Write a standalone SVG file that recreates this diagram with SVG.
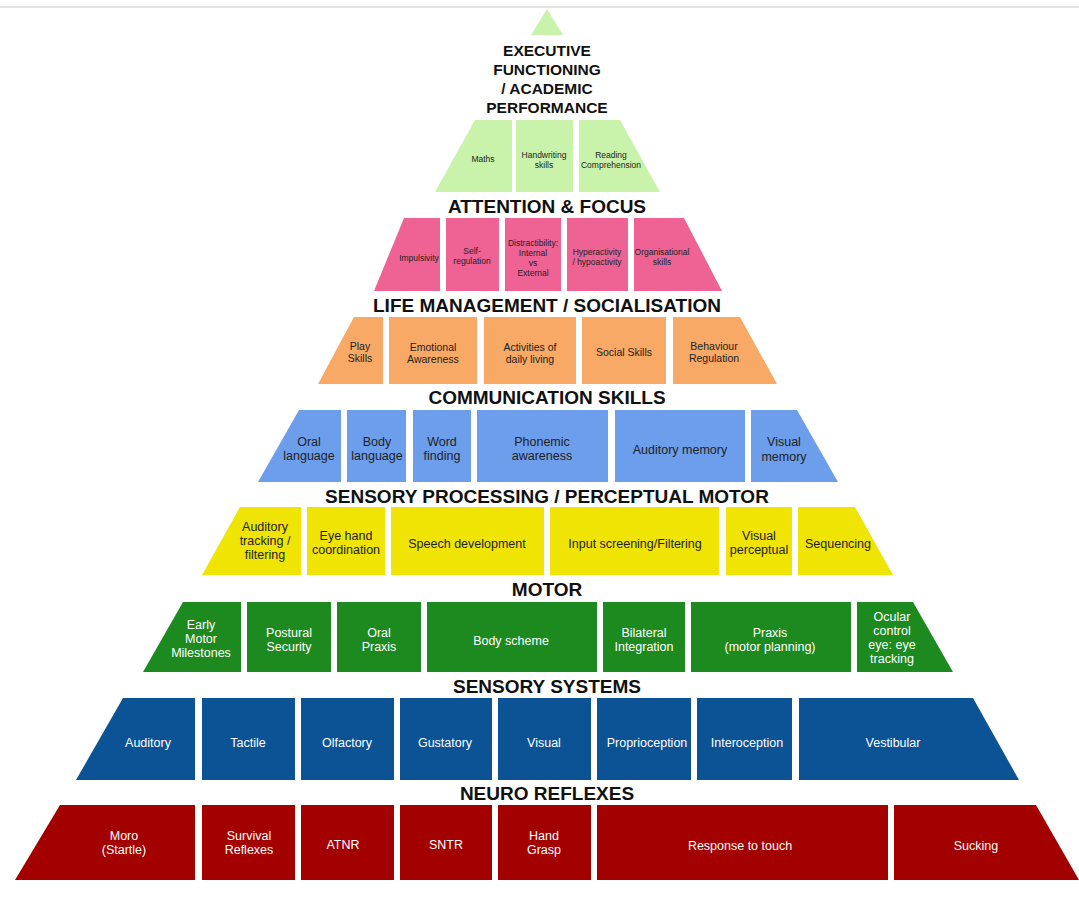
<svg xmlns="http://www.w3.org/2000/svg" width="1079" height="908" viewBox="0 0 1079 908">
<style>
text{font-family:"Liberation Sans",Arial,sans-serif;text-anchor:middle}
.h{font-weight:bold;font-size:19px;fill:#111}
.t{font-weight:bold;font-size:15.5px;fill:#111}
.k{fill:#222}.w{fill:#fff}
.s9{font-size:8.5px}.s11{font-size:10.5px}.s13{font-size:12.5px}
.c1{fill:#c9f2ab}.c2{fill:#ee6294}.c3{fill:#f8a965}.c4{fill:#6d9eeb}.c5{fill:#efe404}.c6{fill:#1d8a1f}.c7{fill:#0b5394}.c8{fill:#a30000}
</style>
<rect width="1079" height="908" fill="#fff"/>
<line x1="0" y1="7" x2="1079" y2="7" stroke="#ddd" stroke-width="1.5"/>
<g id="apex"><polygon class="c1" points="547,9 563,35 531,35"/></g>
<g id="headings">
<text class="t" x="547" y="56">EXECUTIVE</text>
<text class="t" x="547" y="75">FUNCTIONING</text>
<text class="t" x="547" y="94">/ ACADEMIC</text>
<text class="t" x="547" y="113">PERFORMANCE</text>
<text class="h" x="547" y="213">ATTENTION &amp; FOCUS</text>
<text class="h" x="547" y="312">LIFE MANAGEMENT / SOCIALISATION</text>
<text class="h" x="547" y="404">COMMUNICATION SKILLS</text>
<text class="h" x="547" y="503">SENSORY PROCESSING / PERCEPTUAL MOTOR</text>
<text class="h" x="547" y="596">MOTOR</text>
<text class="h" x="547" y="693">SENSORY SYSTEMS</text>
<text class="h" x="547" y="800">NEURO REFLEXES</text>
</g>
<g id="row1" class="k s9">
<g id="maths"><polygon class="c1" points="475,120 512,120 512,192 435,192"/><text x="483" y="162">Maths</text></g>
<g id="handwriting"><rect class="c1" x="516" y="120" width="57" height="72"/><text x="544" y="158">Handwriting</text><text x="544" y="168">skills</text></g>
<g id="reading"><polygon class="c1" points="579,120 620,120 660,192 579,192"/><text x="611" y="158">Reading</text><text x="611" y="168">Comprehension</text></g>
</g>
<g id="row2" class="k s9">
<g id="impulsivity"><polygon class="c2" points="404,218 440,218 440,291 374,291"/><text x="419" y="261">Impulsivity</text></g>
<g id="selfreg"><rect class="c2" x="446" y="218" width="53" height="73"/><text x="472" y="254">Self-</text><text x="472" y="264">regulation</text></g>
<g id="distract"><rect class="c2" x="505" y="218" width="56" height="73"/><text x="533" y="246">Distractibility:</text><text x="533" y="256">Internal</text><text x="533" y="266">vs</text><text x="533" y="276">External</text></g>
<g id="hyper"><rect class="c2" x="567" y="218" width="61" height="73"/><text x="597" y="255">Hyperactivity</text><text x="597" y="265">/ hypoactivity</text></g>
<g id="organisational"><polygon class="c2" points="634,218 684,218 722,291 634,291"/><text x="662" y="255">Organisational</text><text x="662" y="265">skills</text></g>
</g>
<g id="row3" class="k s11">
<g id="play"><polygon class="c3" points="354,317 383,317 383,384 318,384"/><text x="360" y="350">Play</text><text x="360" y="362">Skills</text></g>
<g id="emotional"><rect class="c3" x="389" y="317" width="88" height="67"/><text x="433" y="351">Emotional</text><text x="433" y="363">Awareness</text></g>
<g id="adl"><rect class="c3" x="484" y="317" width="92" height="67"/><text x="530" y="351">Activities of</text><text x="530" y="363">daily living</text></g>
<g id="social"><rect class="c3" x="582" y="317" width="84" height="67"/><text x="624" y="356">Social Skills</text></g>
<g id="behaviour"><polygon class="c3" points="673,317 740,317 777,384 673,384"/><text x="714" y="350">Behaviour</text><text x="714" y="362">Regulation</text></g>
</g>
<g id="row4" class="k s13">
<g id="oral"><polygon class="c4" points="299,410 341,410 341,482 258,482"/><text x="309" y="446">Oral</text><text x="309" y="460">language</text></g>
<g id="bodylang"><rect class="c4" x="347" y="410" width="59" height="72"/><text x="377" y="446">Body</text><text x="377" y="460">language</text></g>
<g id="word"><rect class="c4" x="413" y="410" width="58" height="72"/><text x="442" y="446">Word</text><text x="442" y="460">finding</text></g>
<g id="phonemic"><rect class="c4" x="477" y="410" width="131" height="72"/><text x="542" y="446">Phonemic</text><text x="542" y="460">awareness</text></g>
<g id="audmem"><rect class="c4" x="615" y="410" width="130" height="72"/><text x="680" y="454">Auditory memory</text></g>
<g id="vismem"><polygon class="c4" points="751,410 797,410 838,482 751,482"/><text x="784" y="446">Visual</text><text x="784" y="461">memory</text></g>
</g>
<g id="row5" class="k s13">
<g id="audtrack"><polygon class="c5" points="240,507 301,507 301,575 202,575"/><text x="265" y="531">Auditory</text><text x="265" y="545">tracking /</text><text x="265" y="559">filtering</text></g>
<g id="eyehand"><rect class="c5" x="307" y="507" width="78" height="68"/><text x="346" y="540">Eye hand</text><text x="346" y="554">coordination</text></g>
<g id="speech"><rect class="c5" x="391" y="507" width="153" height="68"/><text x="467" y="548">Speech development</text></g>
<g id="input"><rect class="c5" x="550" y="507" width="169" height="68"/><text x="635" y="548">Input screening/Filtering</text></g>
<g id="visperc"><rect class="c5" x="726" y="507" width="66" height="68"/><text x="759" y="540">Visual</text><text x="759" y="554">perceptual</text></g>
<g id="sequencing"><polygon class="c5" points="798,507 855,507 893,575 798,575"/><text x="838" y="548">Sequencing</text></g>
</g>
<g id="row6" class="w s13">
<g id="early"><polygon class="c6" points="183,602 241,602 241,672 143,672"/><text x="201" y="629">Early</text><text x="201" y="643">Motor</text><text x="201" y="657">Milestones</text></g>
<g id="postural"><rect class="c6" x="247" y="602" width="84" height="70"/><text x="289" y="637">Postural</text><text x="289" y="651">Security</text></g>
<g id="oralpraxis"><rect class="c6" x="337" y="602" width="84" height="70"/><text x="379" y="637">Oral</text><text x="379" y="651">Praxis</text></g>
<g id="bodyscheme"><rect class="c6" x="427" y="602" width="170" height="70"/><text x="511" y="645">Body scheme</text></g>
<g id="bilateral"><rect class="c6" x="603" y="602" width="82" height="70"/><text x="644" y="637">Bilateral</text><text x="644" y="651">Integration</text></g>
<g id="praxis"><rect class="c6" x="691" y="602" width="160" height="70"/><text x="770" y="637">Praxis</text><text x="770" y="651">(motor planning)</text></g>
<g id="ocular"><polygon class="c6" points="857,602 913,602 953,672 857,672"/><text x="892" y="621">Ocular</text><text x="892" y="635">control</text><text x="892" y="649">eye: eye</text><text x="892" y="663">tracking</text></g>
</g>
<g id="row7" class="w s13">
<g id="auditory"><polygon class="c7" points="123,698 195,698 195,780 76,780"/><text x="148" y="747">Auditory</text></g>
<g id="tactile"><rect class="c7" x="202" y="698" width="93" height="82"/><text x="248" y="747">Tactile</text></g>
<g id="olfactory"><rect class="c7" x="301" y="698" width="93" height="82"/><text x="347" y="747">Olfactory</text></g>
<g id="gustatory"><rect class="c7" x="400" y="698" width="92" height="82"/><text x="445" y="747">Gustatory</text></g>
<g id="visual"><rect class="c7" x="498" y="698" width="93" height="82"/><text x="544" y="747">Visual</text></g>
<g id="proprio"><rect class="c7" x="597" y="698" width="94" height="82"/><text x="647" y="747">Proprioception</text></g>
<g id="intero"><rect class="c7" x="697" y="698" width="95" height="82"/><text x="747" y="747">Interoception</text></g>
<g id="vestibular"><polygon class="c7" points="799,698 973,698 1019,780 799,780"/><text x="893" y="747">Vestibular</text></g>
</g>
<g id="row8" class="w s13">
<g id="moro"><polygon class="c8" points="60,805 195,805 195,880 15,880"/><text x="124" y="840">Moro</text><text x="124" y="854">(Startle)</text></g>
<g id="survival"><rect class="c8" x="202" y="805" width="93" height="75"/><text x="249" y="840">Survival</text><text x="249" y="854">Reflexes</text></g>
<g id="atnr"><rect class="c8" x="301" y="805" width="93" height="75"/><text x="343" y="849">ATNR</text></g>
<g id="sntr"><rect class="c8" x="400" y="805" width="92" height="75"/><text x="446" y="849">SNTR</text></g>
<g id="hand"><rect class="c8" x="498" y="805" width="93" height="75"/><text x="544" y="840">Hand</text><text x="544" y="854">Grasp</text></g>
<g id="touch"><rect class="c8" x="597" y="805" width="291" height="75"/><text x="740" y="850">Response to touch</text></g>
<g id="sucking"><polygon class="c8" points="894,805 1036,805 1079,880 894,880"/><text x="976" y="850">Sucking</text></g>
</g>
<g id="connectors"/>
</svg>
